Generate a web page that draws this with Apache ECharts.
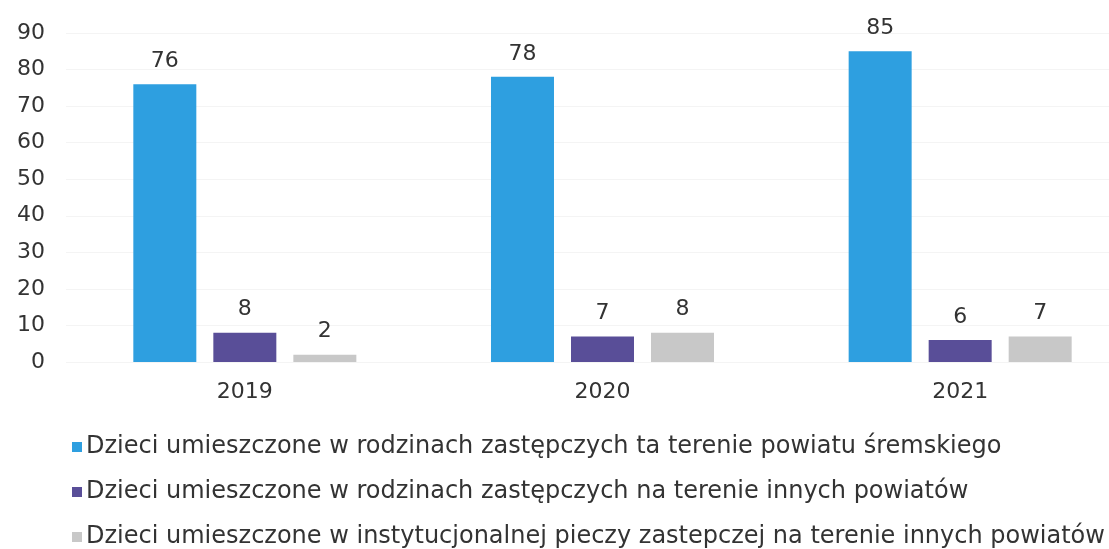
<!DOCTYPE html>
<html><head><meta charset="utf-8">
<script src="https://cdn.jsdelivr.net/npm/echarts@6/dist/echarts.min.js"></script>
<style>html,body{margin:0;padding:0;background:#fff}#c{width:1109px;height:549px}</style>
</head><body><div id="c"></div>
<script>
const categories = ['2019', '2020', '2021'];
const seriesNames = [
  'Dzieci umieszczone w rodzinach zastępczych ta terenie powiatu śremskiego',
  'Dzieci umieszczone w rodzinach zastępczych na terenie innych powiatów',
  'Dzieci umieszczone w instytucjonalnej pieczy zastepczej na terenie innych powiatów'
];
const localFoster = [76, 78, 85];
const otherFoster = [8, 7, 6];
const institutional = [2, 8, 7];
const colors = ['#2e9fe0', '#594e98', '#c8c8c8'];

const font = 'DejaVu Sans';
const chart = echarts.init(document.getElementById('c'), null, {renderer: 'canvas'});
const mk = (name, data, color) => ({
  name, type: 'bar', data, barWidth: 63, barGap: '27%',
  itemStyle: {color},
  label: {show: true, position: 'top', distance: 12, color: '#333', fontSize: 22, fontFamily: font}
});
chart.setOption({
  animation: false,
  grid: {left: 66, top: 33, width: 1073, height: 329, outerBoundsMode: 'none', containLabel: false},
  xAxis: {
    type: 'category', data: categories,
    axisLine: {show: false}, axisTick: {show: false},
    axisLabel: {color: '#333', fontSize: 22, fontFamily: font, margin: 19}
  },
  yAxis: {
    type: 'value', min: 0, max: 90, interval: 10,
    axisLabel: {color: '#333', fontSize: 22, fontFamily: font, margin: 21},
    splitLine: {lineStyle: {color: '#f4f4f4'}}
  },
  legend: {
    orient: 'vertical', left: 72, top: 435, itemGap: 21, padding: 0,
    itemWidth: 10, itemHeight: 10, icon: 'rect',
    textStyle: {color: '#333', fontSize: 24, fontFamily: font, lineHeight: 24, padding: [0,0,0,-1]},
    data: seriesNames
  },
  series: [mk(seriesNames[0], localFoster, colors[0]), mk(seriesNames[1], otherFoster, colors[1]), mk(seriesNames[2], institutional, colors[2])]
});
</script></body></html>
